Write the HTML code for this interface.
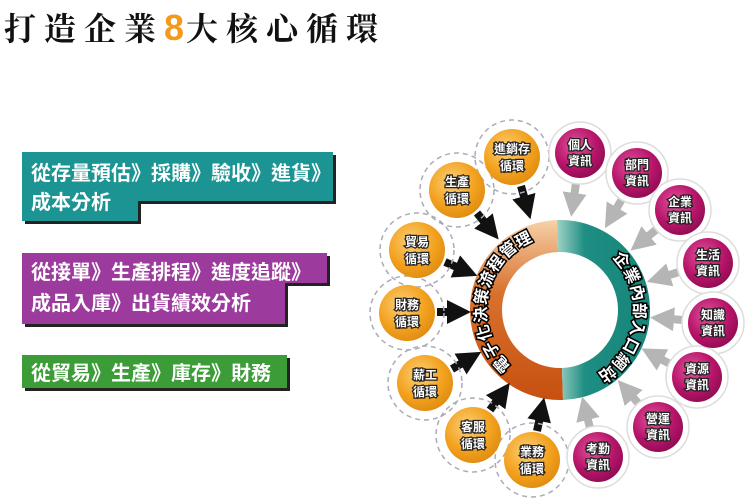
<!DOCTYPE html>
<html><head><meta charset="utf-8"><style>
html,body{margin:0;padding:0;background:#fff;}
body{width:750px;height:500px;position:relative;overflow:hidden;font-family:"Liberation Sans","Noto Sans CJK TC",sans-serif;}
.title{position:absolute;left:4px;top:4px;font-size:32px;letter-spacing:8px;color:#111;font-weight:bold;font-family:"Noto Serif CJK SC","Noto Sans CJK TC",serif;}
.title b{color:#f39a1a;font-family:"Liberation Sans",sans-serif;font-weight:900;font-size:36px;letter-spacing:2px;}
</style></head><body>
<div class="title">打造企業<b>8</b>大核心循環</div>
<svg width="750" height="500" style="position:absolute;left:0;top:0">
<defs>
<linearGradient id="og" x1="0" y1="0" x2="0" y2="1"><stop offset="0" stop-color="#f6d2a8"/><stop offset="0.4" stop-color="#d9722e"/><stop offset="1" stop-color="#c65010"/></linearGradient>
<linearGradient id="tg" x1="0" y1="0" x2="1" y2="0"><stop offset="0" stop-color="#9fd2c6"/><stop offset="0.3" stop-color="#1e8d82"/><stop offset="1" stop-color="#17857a"/></linearGradient>
<radialGradient id="orb" cx="0.4" cy="0.35" r="0.7"><stop offset="0" stop-color="#fbd07a"/><stop offset="0.6" stop-color="#f3a21f"/><stop offset="1" stop-color="#de8a10"/></radialGradient>
<radialGradient id="mab" cx="0.4" cy="0.35" r="0.7"><stop offset="0" stop-color="#e2559b"/><stop offset="0.6" stop-color="#b8156b"/><stop offset="1" stop-color="#8e0b50"/></radialGradient>
<marker id="ab" markerWidth="3" markerHeight="3" refX="0.5" refY="1.5" orient="auto"><path d="M0,0L3,1.5L0,3z" fill="#111"/></marker>
<marker id="ag" markerWidth="3" markerHeight="3" refX="0.5" refY="1.5" orient="auto"><path d="M0,0L3,1.5L0,3z" fill="#b5b5b5"/></marker>
<path id="lp" d="M528.7,377 A74,74 0 0 1 553.6,236.3"/>
<path id="rp" d="M572.8,237.1 A74,74 0 0 1 553.5,383.7"/>
</defs>
<path d="M25,155h311v49h-195v20h-116z" fill="#222"/>
<path d="M22,152h311v49h-195v20h-116z" fill="#1c9493" />
<path d="M25,256h305v30h-42v41h-263z" fill="#222"/>
<path d="M22,253h305v30h-42v41h-263z" fill="#9c3a9e"/>
<rect x="25" y="358" width="265" height="33" fill="#222"/>
<rect x="22" y="355" width="265" height="33" fill="#3c9c37"/>
<g fill="#fff" font-size="20" font-weight="bold" font-family="Liberation Sans,Noto Sans CJK TC,sans-serif">
<text x="31" y="180">從存量預估》採購》驗收》進貨》</text>
<text x="31" y="209">成本分析</text>
<text x="31" y="279">從接單》生產排程》進度追蹤》</text>
<text x="31" y="310">成品入庫》出貨績效分析</text>
<text x="31" y="380">從貿易》生產》庫存》財務</text>
</g>
<path d="M557,220 A90,90 0 0 0 563,400 L562,368 A58,58 0 0 1 558,252z" fill="url(#og)"/>
<path d="M557,220 A90,90 0 0 1 563,400 L562,368 A58,58 0 0 0 558,252z" fill="url(#tg)"/>
<circle cx="560" cy="310" r="57" fill="#fff"/>
<g font-size="16" font-weight="bold" fill="#fff" stroke="#000" stroke-width="3" paint-order="stroke" font-family="Noto Sans CJK TC,sans-serif" text-anchor="middle" letter-spacing="1">
<text><textPath href="#lp" startOffset="50%">電子化決策流程管理</textPath></text>
<text><textPath href="#rp" startOffset="50%">企業內部入口網站</textPath></text>
</g>
<g stroke="#111" stroke-width="8" marker-end="url(#ab)">
<line x1="521" y1="186" x2="525" y2="200"/>
<line x1="477" y1="213" x2="486" y2="224"/>
<line x1="445" y1="262" x2="459" y2="268"/>
<line x1="437" y1="312" x2="451" y2="312"/>
<line x1="452" y1="369" x2="464" y2="362"/>
<line x1="490" y1="410" x2="498" y2="399"/>
<line x1="537" y1="431" x2="540" y2="417"/>
</g>
<g stroke="#b5b5b5" stroke-width="8" marker-end="url(#ag)">
<line x1="576" y1="183" x2="574" y2="197"/>
<line x1="622" y1="199" x2="615" y2="211"/>
<line x1="657" y1="229" x2="646" y2="238"/>
<line x1="679" y1="272" x2="666" y2="276"/>
<line x1="683" y1="320" x2="670" y2="319"/>
<line x1="670" y1="364" x2="659" y2="358"/>
<line x1="639" y1="404" x2="631" y2="395"/>
<line x1="590" y1="428" x2="587" y2="416"/>
</g>
<g stroke="#aab" stroke-width="1.5" stroke-dasharray="5,4" fill="none">
<circle cx="512" cy="157" r="37"/><circle cx="457" cy="190" r="37"/><circle cx="417" cy="250" r="37"/><circle cx="407" cy="313" r="37"/><circle cx="425" cy="383" r="37"/><circle cx="473" cy="435" r="37"/><circle cx="532" cy="460" r="37"/>
</g>
<g fill="url(#orb)">
<circle cx="512" cy="157" r="28"/><circle cx="457" cy="190" r="28"/><circle cx="417" cy="250" r="28"/><circle cx="407" cy="313" r="28"/><circle cx="425" cy="383" r="28"/><circle cx="473" cy="435" r="28"/><circle cx="532" cy="460" r="28"/>
</g>
<g fill="#fff" stroke="#ddd" stroke-width="1.5">
<circle cx="580" cy="153" r="31"/><circle cx="637" cy="173" r="31"/><circle cx="680" cy="210" r="31"/><circle cx="708" cy="263" r="31"/><circle cx="713" cy="323" r="31"/><circle cx="697" cy="377" r="31"/><circle cx="658" cy="427" r="31"/><circle cx="598" cy="457" r="31"/>
</g>
<g fill="url(#mab)">
<circle cx="580" cy="153" r="25"/><circle cx="637" cy="173" r="25"/><circle cx="680" cy="210" r="25"/><circle cx="708" cy="263" r="25"/><circle cx="713" cy="323" r="25"/><circle cx="697" cy="377" r="25"/><circle cx="658" cy="427" r="25"/><circle cx="598" cy="457" r="25"/>
</g>
<g font-size="12" font-weight="bold" fill="#fff" stroke="#222" stroke-width="2.5" paint-order="stroke" text-anchor="middle" font-family="Noto Sans CJK TC,sans-serif">
<text x="512" y="153">進銷存</text><text x="512" y="170">循環</text>
<text x="457" y="186">生產</text><text x="457" y="203">循環</text>
<text x="417" y="246">貿易</text><text x="417" y="263">循環</text>
<text x="407" y="309">財務</text><text x="407" y="326">循環</text>
<text x="425" y="379">薪工</text><text x="425" y="396">循環</text>
<text x="473" y="431">客服</text><text x="473" y="448">循環</text>
<text x="532" y="456">業務</text><text x="532" y="473">循環</text>
<text x="580" y="149">個人</text><text x="580" y="165">資訊</text>
<text x="637" y="169">部門</text><text x="637" y="185">資訊</text>
<text x="680" y="206">企業</text><text x="680" y="222">資訊</text>
<text x="708" y="259">生活</text><text x="708" y="275">資訊</text>
<text x="713" y="319">知識</text><text x="713" y="335">資訊</text>
<text x="697" y="373">資源</text><text x="697" y="389">資訊</text>
<text x="658" y="423">營運</text><text x="658" y="439">資訊</text>
<text x="598" y="453">考勤</text><text x="598" y="469">資訊</text>
</g>
</svg>
</body></html>
